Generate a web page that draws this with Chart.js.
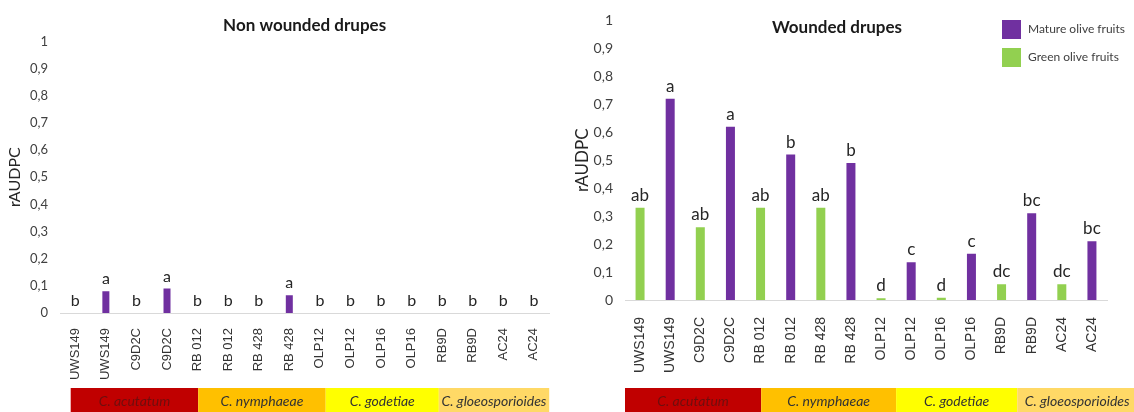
<!DOCTYPE html>
<html>
<head>
<meta charset="utf-8">
<script src="https://cdn.jsdelivr.net/npm/chart.js@4.4.1/dist/chart.umd.min.js"></script>
<style>
  html, body { margin: 0; padding: 0; background: #fff; }
  #wrap { position: relative; width: 1134px; height: 412px; overflow: hidden; }
  .panel { position: absolute; top: 0; height: 412px; }
  #left { left: 0; width: 565px; }
  #right { left: 542px; width: 592px; }
</style>
</head>
<body>
<div id="wrap">
  <div class="panel" id="left"><canvas id="nonWoundedChart"></canvas></div>
  <div class="panel" id="right"><canvas id="woundedChart"></canvas></div>
</div>
<script>
// strains, each one tested on green and on mature fruits
var strains = ["UWS149", "UWS149", "C9D2C", "C9D2C", "RB 012", "RB 012", "RB 428", "RB 428",
               "OLP12", "OLP12", "OLP16", "OLP16", "RB9D", "RB9D", "AC24", "AC24"];
var seriesNames = ["Mature olive fruits", "Green olive fruits"];

var nonWoundedGreen  = [0, null, 0, null, 0, null, 0, null, 0, null, 0, null, 0, null, 0, null];
var nonWoundedMature = [null, 0.08, null, 0.09, null, 0, null, 0.065, null, 0, null, 0, null, 0, null, 0];
var nonWoundedLetters = ["b", "a", "b", "a", "b", "b", "b", "a", "b", "b", "b", "b", "b", "b", "b", "b"];

var woundedGreen  = [0.33, null, 0.26, null, 0.33, null, 0.33, null, 0.006, null, 0.008, null, 0.056, null, 0.056, null];
var woundedMature = [null, 0.72, null, 0.62, null, 0.52, null, 0.49, null, 0.135, null, 0.165, null, 0.31, null, 0.21];
var woundedLetters = ["ab", "a", "ab", "a", "ab", "b", "ab", "b", "d", "c", "d", "c", "dc", "bc", "dc", "bc"];

var species = ["C. acutatum", "C. nymphaeae", "C. godetiae", "C. gloeosporioides"];
var speciesColors = ["#C00000", "#FFC000", "#FFFF00", "#FFD966"];
var speciesTextColors = ["#6e0e0e", "#333333", "#333333", "#333333"];

var matureColor = "#7030A0";
var greenColor = "#92D050";

function commaTick(value) {
  if (value === 0) return "0";
  if (Math.abs(value - 1) < 1e-9) return "1";
  return value.toFixed(1).replace(".", ",");
}

// letters over the bars, species band under the labels, and the legend box
var panelExtras = {
  id: "panelExtras",
  afterDatasetsDraw: function(chart, args, opts) {
    var ctx = chart.ctx;
    ctx.save();
    ctx.font = opts.letterFont;
    ctx.fillStyle = "#262626";
    ctx.textAlign = "center";
    ctx.textBaseline = "alphabetic";
    opts.letters.forEach(function(letter, i) {
      chart.data.datasets.forEach(function(ds, d) {
        if (ds.data[i] === null) return;
        var bar = chart.getDatasetMeta(d).data[i];
        ctx.fillText(letter, bar.x, bar.y - opts.letterGap);
      });
    });
    ctx.restore();
  },
  afterDraw: function(chart, args, opts) {
    var ctx = chart.ctx;
    var x = chart.scales.x;
    var unit = x.width / chart.data.labels.length;
    ctx.save();
    for (var s = 0; s < species.length; s++) {
      var x0 = x.left + opts.bandEdges[s] * unit;
      var x1 = x.left + opts.bandEdges[s + 1] * unit;
      ctx.fillStyle = speciesColors[s];
      ctx.fillRect(x0, opts.bandTop, x1 - x0, opts.bandHeight);
      ctx.fillStyle = speciesTextColors[s];
      ctx.font = "italic 14px Lato";
      ctx.textAlign = "center";
      ctx.textBaseline = "middle";
      ctx.fillText(species[s], (x0 + x1) / 2, opts.bandTop + opts.bandHeight / 2);
    }
    if (opts.legend) {
      var lg = opts.legend;
      chart.data.datasets.forEach(function(ds, d) {
        var y = lg.y + d * lg.step;
        ctx.fillStyle = ds.backgroundColor;
        ctx.fillRect(lg.x, y, lg.box, lg.box);
        ctx.fillStyle = "#404040";
        ctx.font = "12px Lato";
        ctx.textAlign = "left";
        ctx.textBaseline = "middle";
        ctx.fillText(ds.label, lg.x + lg.box + 7, y + lg.box / 2);
      });
    }
    ctx.restore();
  }
};

function makeChart(canvasId, green, mature, cfg) {
  return new Chart(document.getElementById(canvasId), {
    type: "bar",
    data: {
      labels: strains,
      datasets: [
        { label: seriesNames[0], data: mature, backgroundColor: matureColor, barThickness: cfg.barWidth, inflateAmount: 0 },
        { label: seriesNames[1], data: green, backgroundColor: greenColor, barThickness: cfg.barWidth, inflateAmount: 0 }
      ]
    },
    options: {
      responsive: true,
      maintainAspectRatio: false,
      animation: false,
      skipNull: true,
      layout: { padding: cfg.padding },
      scales: {
        x: {
          grid: { display: false, drawTicks: false },
          border: { display: true, color: "#D9D9D9", width: 1 },
          ticks: {
            color: "#333333",
            font: { family: "Liberation Sans", size: cfg.xFont },
            minRotation: 90, maxRotation: 90,
            padding: cfg.xPad,
            autoSkip: false
          },
          afterFit: function(scale) { scale.height = cfg.xHeight; }
        },
        y: {
          min: 0, max: 1,
          grid: { display: false, drawTicks: false },
          border: { display: false },
          ticks: {
            stepSize: 0.1,
            color: "#404040",
            font: { family: "Lato", size: cfg.yFont },
            padding: 12,
            callback: commaTick
          },
          title: {
            display: true,
            text: "rAUDPC",
            color: "#262626",
            font: { family: "Lato", size: cfg.yTitleFont },
            padding: { top: 5, bottom: 0 }
          },
          afterFit: function(scale) { scale.width = cfg.yWidth; }
        }
      },
      plugins: {
        legend: { display: false },
        tooltip: { enabled: false },
        title: {
          display: true,
          text: cfg.title,
          color: "#1a1a1a",
          fullSize: cfg.titleFull,
          font: { family: "Lato", size: 17, weight: "bold" },
          padding: cfg.titlePad
        },
        panelExtras: {
          letters: cfg.letters,
          letterFont: cfg.letterFont,
          letterGap: 7,
          bandEdges: cfg.bandEdges,
          bandTop: 388,
          bandHeight: 26,
          legend: cfg.legend
        }
      }
    },
    plugins: [panelExtras]
  });
}

makeChart("nonWoundedChart", nonWoundedGreen, nonWoundedMature, {
  title: "Non wounded drupes",
  titleFull: false,
  titlePad: { top: 15, bottom: 6 },
  padding: { left: 0, right: 2, top: 0, bottom: 0 },
  letters: nonWoundedLetters,
  letterFont: "16px Lato",
  barWidth: 7,
  xFont: 13, xPad: 15, xHeight: 99,
  yFont: 13, yTitleFont: 16, yWidth: 60,
  bandEdges: [0.35, 4.52, 8.69, 12.39, 16.0],
  legend: null
});

makeChart("woundedChart", woundedGreen, woundedMature, {
  title: "Wounded drupes",
  titleFull: true,
  titlePad: { top: 15, bottom: -17.2 },
  padding: { left: 25, right: 27, top: 0, bottom: 0 },
  letters: woundedLetters,
  letterFont: "17px Lato",
  barWidth: 9,
  xFont: 14, xPad: 17, xHeight: 112,
  yFont: 14, yTitleFont: 17, yWidth: 58,
  bandEdges: [0, 4.52, 9.0, 13.02, 17.0],
  legend: { x: 460, y: 20, step: 28, box: 19 }
});
</script>
</body>
</html>
